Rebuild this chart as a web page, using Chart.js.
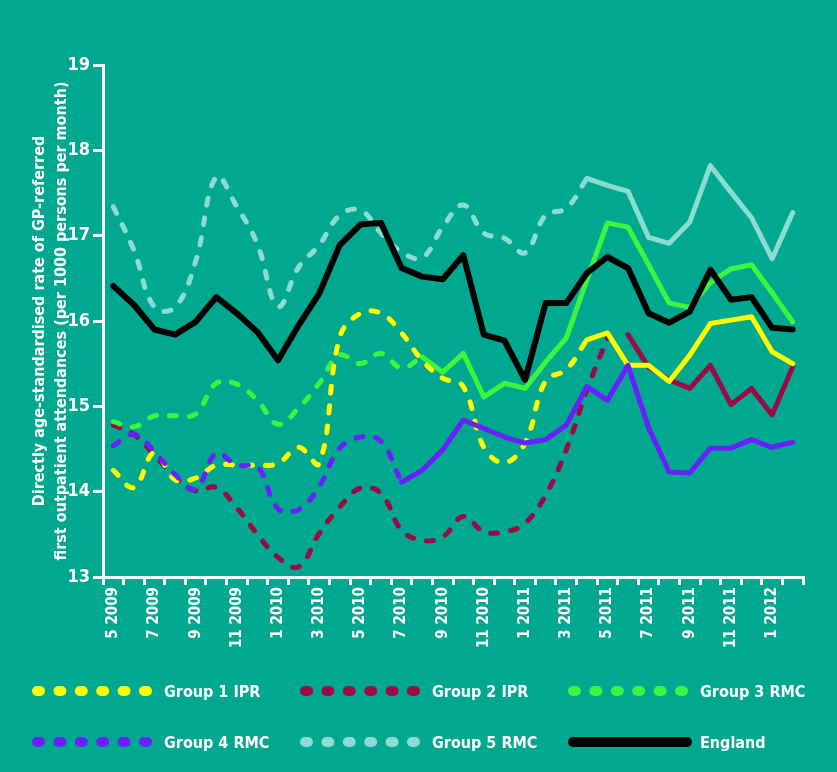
<!DOCTYPE html>
<html>
<head>
<meta charset="utf-8">
<script src="https://cdn.jsdelivr.net/npm/chart.js@4.4.0/dist/chart.umd.min.js"></script>
<style>
body { margin: 0; background: #00a88f; }
#wrap { position: relative; width: 837px; height: 772px; background: #00a88f; }
#legend .item { position: absolute; height: 20px; display: flex; align-items: center; }
#legend svg { position: absolute; left: 0; top: 0; }
#legend span { position: absolute; left: 132px; top: 50%; transform: translateY(-50%); white-space: nowrap;
  color: #fff; font: bold 16px "DejaVu Sans Condensed", "DejaVu Sans", sans-serif; }
</style>
</head>
<body>
<div id="wrap">
  <canvas id="canvRate" width="837" height="772"></canvas>
  <div id="legend"></div>
</div>
<script>
// months on the x axis (only odd months get a label)
var categories = ['5 2009','6 2009','7 2009','8 2009','9 2009','10 2009','11 2009','12 2009',
    '1 2010','2 2010','3 2010','4 2010','5 2010','6 2010','7 2010','8 2010','9 2010','10 2010','11 2010','12 2010',
    '1 2011','2 2011','3 2011','4 2011','5 2011','6 2011','7 2011','8 2011','9 2011','10 2011','11 2011','12 2011',
    '1 2012','2 2012'];
var yTicks = [13, 14, 15, 16, 17, 18, 19];

// rates per 1000 persons per month
var group1IPR = [14.25,14.05,14.46,14.14,14.16,14.31,14.31,14.31,14.33,14.52,14.33,15.81,16.09,16.09,15.86,15.54,15.33,15.23,14.52,14.34,14.57,15.3,15.43,15.78,15.86,15.48,15.48,15.29,15.6,15.97,16.01,16.05,15.64,15.5];
var group2IPR = [14.78,14.67,14.43,14.17,14.01,14.05,13.81,13.5,13.23,13.12,13.51,13.82,14.04,13.98,13.55,13.43,13.47,13.71,13.53,13.53,13.63,13.96,14.49,15.19,15.8,15.84,15.46,15.31,15.21,15.48,15.02,15.21,14.9,15.46];
var group3RMC = [14.82,14.76,14.89,14.89,14.91,15.27,15.26,15.07,14.79,14.98,15.27,15.6,15.5,15.62,15.45,15.58,15.4,15.62,15.11,15.27,15.21,15.52,15.8,16.48,17.15,17.1,16.66,16.21,16.16,16.45,16.61,16.66,16.33,15.99];
var group4RMC = [14.54,14.67,14.47,14.2,14.03,14.45,14.31,14.29,13.8,13.79,14.06,14.51,14.64,14.59,14.11,14.25,14.49,14.84,14.74,14.64,14.57,14.61,14.78,15.23,15.07,15.48,14.75,14.23,14.22,14.51,14.51,14.61,14.52,14.58];
var group5RMC = [17.34,16.83,16.16,16.16,16.7,17.69,17.34,16.9,16.17,16.63,16.89,17.24,17.3,17.03,16.81,16.74,17.1,17.36,17.03,16.97,16.8,17.24,17.32,17.67,17.59,17.52,16.98,16.91,17.16,17.82,17.51,17.21,16.73,17.27];
var england   = [16.41,16.19,15.9,15.84,15.99,16.28,16.09,15.87,15.54,15.95,16.32,16.89,17.13,17.15,16.62,16.52,16.49,16.77,15.84,15.77,15.31,16.21,16.21,16.56,16.75,16.62,16.09,15.98,16.11,16.6,16.25,16.28,15.92,15.9];

var seriesNames  = ['Group 1 IPR', 'Group 2 IPR', 'Group 3 RMC', 'Group 4 RMC', 'Group 5 RMC', 'England'];
var seriesValues = [group1IPR, group2IPR, group3RMC, group4RMC, group5RMC, england];
// last index drawn dashed, first index drawn solid
var dashedUntil = [23, 24, 15, 14, 23, -1];
var solidFrom   = [23, 25, 15, 14, 23, 0];

var colors = ['#ffff00', '#9b0a45', '#3ef53e', '#6a1fff', '#8cdcd2', '#000000'];
var drawOrder = [2, 4, 3, 1, 5, 0];

// keep only the values in [from, to], null elsewhere
function part(arr, from, to) {
    return arr.map(function(v, i) { return (i >= from && i <= to) ? v : null; });
}

var datasets = [];
seriesValues.forEach(function(values, s) {
    if (dashedUntil[s] >= 0) {
        datasets.push({
            label: seriesNames[s] + ' (dashed)',
            data: part(values, 0, dashedUntil[s]),
            borderColor: colors[s],
            borderWidth: 5,
            borderDash: [7, 13],
            borderCapStyle: 'round',
            tension: 0.4,
            order: drawOrder[s]
        });
    }
    datasets.push({
        label: seriesNames[s],
        data: part(values, solidFrom[s], values.length - 1),
        borderColor: colors[s],
        borderWidth: s === 5 ? 6 : 5,
        borderJoinStyle: 'round',
        borderCapStyle: 'round',
        tension: 0,
        order: drawOrder[s]
    });
});

var fontBold = { family: '"DejaVu Sans Condensed", "DejaVu Sans", sans-serif', weight: 'bold' };

var rateChart = new Chart(document.getElementById('canvRate'), {
    type: 'line',
    data: { labels: categories, datasets: datasets },
    options: {
        responsive: false,
        animation: false,
        layout: { padding: { top: 65, right: 34, bottom: 0, left: 0 } },
        elements: { point: { radius: 0 } },
        plugins: { legend: { display: false }, tooltip: { enabled: false } },
        scales: {
            x: {
                offset: true,
                grid: { offset: true, drawOnChartArea: false, color: '#ffffff', lineWidth: 3, tickLength: 8 },
                border: { color: '#ffffff', width: 3 },
                ticks: {
                    color: '#ffffff',
                    font: Object.assign({ size: 15 }, fontBold),
                    autoSkip: false,
                    maxRotation: 90,
                    minRotation: 90,
                    padding: 2,
                    callback: function(v, i) { return i % 2 === 0 ? categories[i] : ''; }
                },
                afterFit: function(scale) { scale.height = 195; }
            },
            y: {
                min: yTicks[0],
                max: yTicks[yTicks.length - 1],
                afterBuildTicks: function(scale) { scale.ticks = yTicks.map(function(v) { return { value: v }; }); },
                grid: { drawOnChartArea: false, color: '#ffffff', lineWidth: 3, tickLength: 10 },
                border: { color: '#ffffff', width: 3 },
                ticks: { color: '#ffffff', font: Object.assign({ size: 18 }, fontBold), padding: 3 },
                title: {
                    display: true,
                    text: ['Directly age-standardised rate of GP-referred',
                           'first outpatient attendances (per 1000 persons per month)'],
                    color: '#ffffff',
                    font: Object.assign({ size: 16, lineHeight: 1.35 }, fontBold),
                    padding: { top: 29, bottom: 0 }
                },
                afterFit: function(scale) { scale.width = 103; }
            }
        }
    }
});

// legend in three columns under the chart
var legendCols = [32, 300, 568];
var legendRows = [681, 732];
var legendHtml = '';
seriesNames.forEach(function(name, s) {
    var left = legendCols[s % 3];
    var top = legendRows[Math.floor(s / 3)];
    var line = dashedUntil[s] >= 0
        ? '<line x1="5" y1="10" x2="115" y2="10" stroke="' + colors[s] + '" stroke-width="10" stroke-linecap="round" stroke-dasharray="3 18.4"/>'
        : '<line x1="5" y1="10" x2="119" y2="10" stroke="' + colors[s] + '" stroke-width="10" stroke-linecap="round"/>';
    legendHtml += '<div class="item" style="left:' + left + 'px;top:' + top + 'px">' +
        '<svg width="130" height="20">' + line + '</svg><span>' + name + '</span></div>';
});
document.getElementById('legend').innerHTML = legendHtml;
</script>
</body>
</html>
